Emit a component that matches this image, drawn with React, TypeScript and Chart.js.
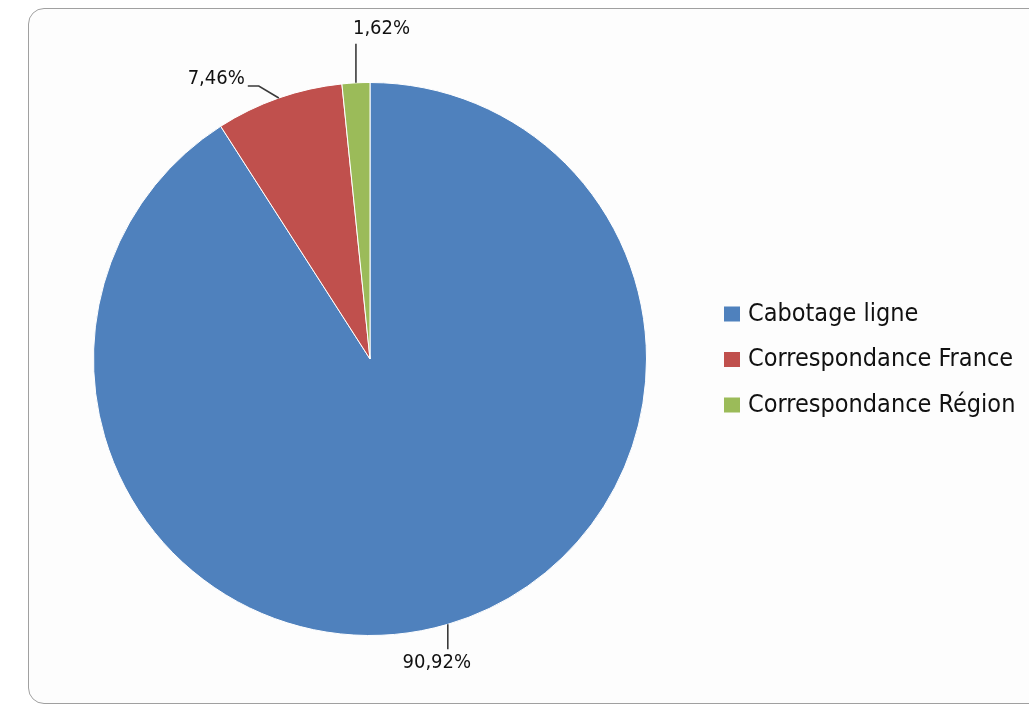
import { useEffect, useRef } from "react"
import { Chart, registerables } from "chart.js"

Chart.register(...registerables)

const categories = ["Cabotage ligne", "Correspondance France", "Correspondance Région"]
const shares = [90.92, 7.46, 1.62]
const sliceColors = ["#4F81BD", "#C0504D", "#9BBB59"]

const labelFont = '20px "DejaVu Sans Condensed", "DejaVu Sans", sans-serif'
const legendFont = '25px "DejaVu Sans Condensed", "DejaVu Sans", sans-serif'

const fmt = (v: number) => v.toFixed(2).replace(".", ",") + "%"

// leader lines + outside labels, placed relative to each slice's mid point on the rim
const outsideLabels = {
  id: "outsideLabels",
  afterDatasetsDraw(chart: any) {
    const { ctx } = chart
    const meta = chart.getDatasetMeta(0)
    const values = chart.data.datasets[0].data as number[]
    ctx.save()
    ctx.strokeStyle = "#3a3a3a"
    ctx.lineWidth = 1.6
    ctx.fillStyle = "#111111"
    ctx.font = labelFont
    ctx.textBaseline = "middle"
    meta.data.forEach((arc: any, i: number) => {
      const { x, y, startAngle, endAngle, outerRadius } = arc.getProps(
        ["x", "y", "startAngle", "endAngle", "outerRadius"],
        true
      )
      const mid = (startAngle + endAngle) / 2
      const px = x + Math.cos(mid) * outerRadius
      const py = y + Math.sin(mid) * outerRadius
      const text = fmt(values[i])
      ctx.beginPath()
      ctx.moveTo(px, py)
      if (i === 0) {
        ctx.lineTo(px, py + 25)
        ctx.stroke()
        ctx.textAlign = "center"
        ctx.fillText(text, px - 11, py + 38)
      } else if (i === 1) {
        ctx.lineTo(px - 20, py - 12)
        ctx.lineTo(px - 31, py - 12)
        ctx.stroke()
        ctx.textAlign = "right"
        ctx.fillText(text, px - 34, py - 19)
      } else {
        ctx.lineTo(px, py - 39)
        ctx.stroke()
        ctx.textAlign = "left"
        ctx.fillText(text, px - 3, py - 54)
      }
    })
    ctx.restore()
  },
}

const sideLegend = {
  id: "sideLegend",
  afterDraw(chart: any) {
    const { ctx } = chart
    const labels = chart.data.labels as string[]
    const colors = chart.data.datasets[0].backgroundColor as string[]
    ctx.save()
    ctx.font = legendFont
    ctx.textBaseline = "middle"
    ctx.textAlign = "left"
    labels.forEach((lab, i) => {
      const cy = 314 + i * 45.5
      ctx.fillStyle = colors[i]
      ctx.fillRect(724, cy - 7.5, 16, 15)
      ctx.fillStyle = "#111111"
      ctx.fillText(lab, 748, cy)
    })
    ctx.restore()
  },
}

export default function App() {
  const canvasRef = useRef<HTMLCanvasElement | null>(null)
  const chartRef = useRef<Chart | null>(null)

  useEffect(() => {
    if (!canvasRef.current) return
    if (chartRef.current) chartRef.current.destroy()
    chartRef.current = new Chart(canvasRef.current, {
      type: "pie",
      data: {
        labels: categories,
        datasets: [
          {
            data: shares,
            backgroundColor: sliceColors,
            borderColor: "#ffffff",
            borderWidth: 1,
          },
        ],
      },
      options: {
        animation: false,
        responsive: false,
        maintainAspectRatio: false,
        layout: { padding: { left: 93, right: 382, top: 82, bottom: 70 } },
        plugins: {
          legend: { display: false },
          tooltip: { enabled: false },
        },
      },
      plugins: [outsideLabels, sideLegend],
    })
    return () => {
      if (chartRef.current) {
        chartRef.current.destroy()
        chartRef.current = null
      }
    }
  }, [])

  return (
    <div>
      <div
        style={{
          position: "fixed",
          left: 28,
          top: 8,
          width: 1100,
          height: 696,
          border: "1.5px solid #a0a0a0",
          borderRadius: 16,
          boxSizing: "border-box",
          background: "#fdfdfd",
        }}
      />
      <canvas
        ref={canvasRef}
        width={1029}
        height={706}
        style={{ position: "fixed", left: 0, top: 0, width: 1029, height: 706 }}
      />
    </div>
  )
}
